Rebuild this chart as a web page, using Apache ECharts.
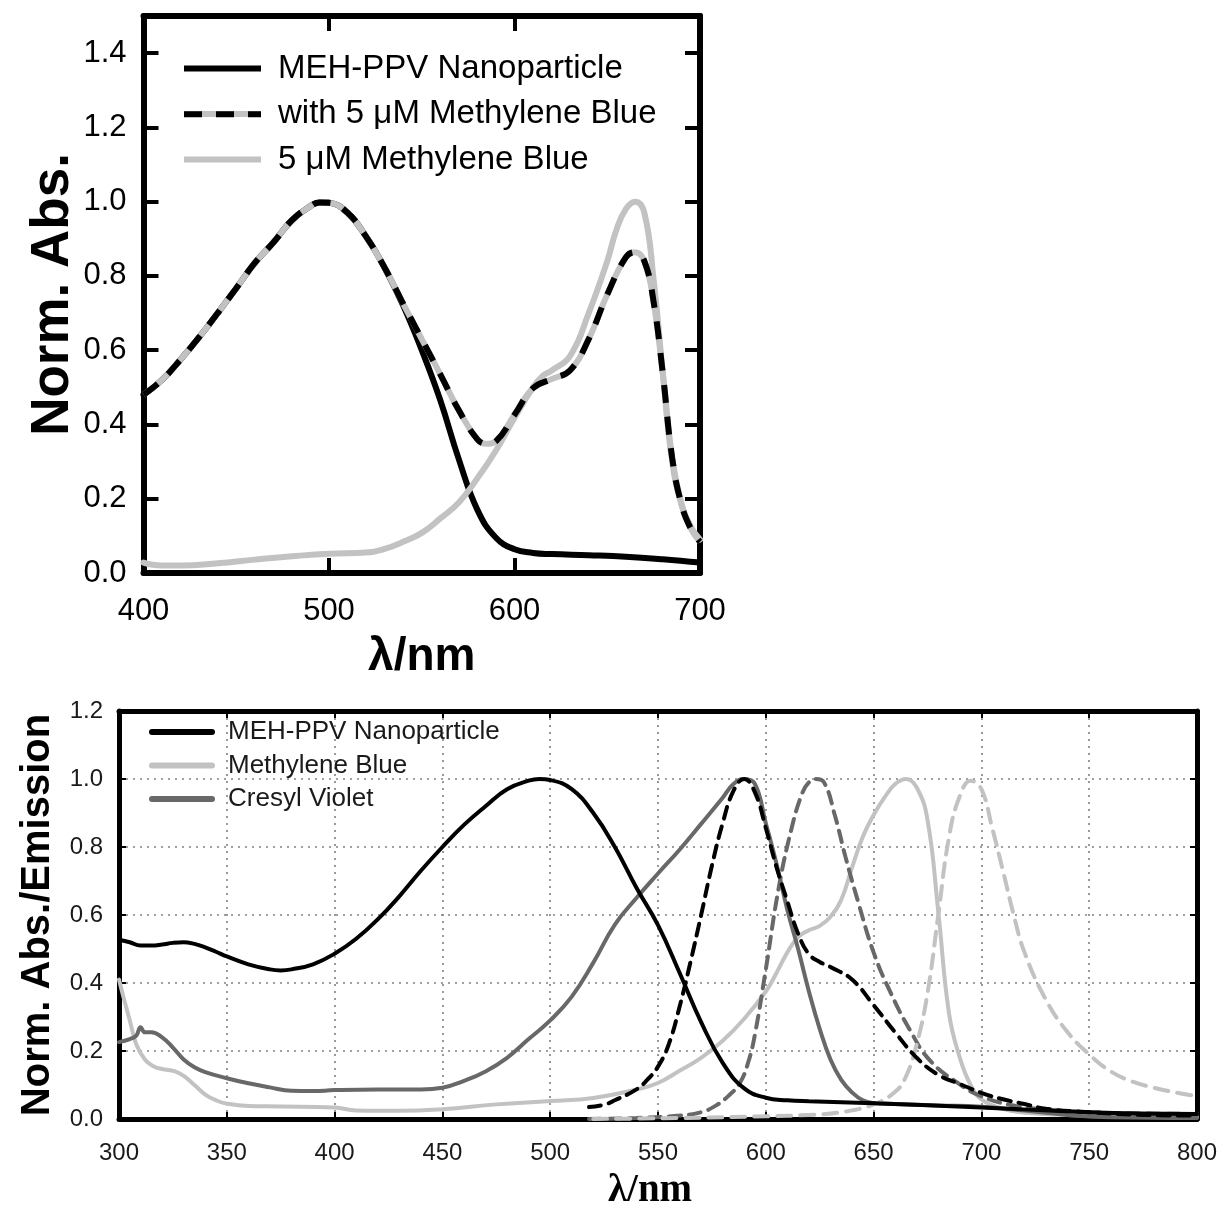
<!DOCTYPE html>
<html>
<head>
<meta charset="utf-8">
<script src="https://cdn.jsdelivr.net/npm/echarts@6/dist/echarts.min.js"></script>
<style>
html,body{margin:0;padding:0;background:#fff;}
#chart{width:1222px;height:1211px;}
</style>
</head>
<body>
<div id="chart"></div>
<script>
// ---------- Top panel data (normalized absorbance) ----------
const topWlMeh = [400, 410, 420, 430, 440, 450, 460, 470, 480, 490, 495, 500, 510, 520, 530, 540, 550, 560, 570, 580, 590, 600, 610, 620, 640, 660, 680, 700];
const topMeh   = [0.48, 0.52, 0.575, 0.635, 0.70, 0.767, 0.835, 0.89, 0.95, 0.988, 0.998, 0.997, 0.97, 0.906, 0.822, 0.72, 0.60, 0.465, 0.306, 0.17, 0.095, 0.064, 0.054, 0.051, 0.048, 0.044, 0.037, 0.028];

const topWlMix = [400, 410, 420, 430, 440, 450, 460, 470, 480, 490, 495, 500, 510, 520, 530, 540, 550, 560, 570, 580, 585, 590, 600, 610, 620, 630, 640, 650, 660, 665, 670, 675, 680, 685, 690, 695, 700];
const topMix   = [0.48, 0.52, 0.575, 0.635, 0.70, 0.767, 0.835, 0.89, 0.95, 0.988, 0.998, 0.997, 0.97, 0.906, 0.822, 0.725, 0.63, 0.535, 0.438, 0.36, 0.348, 0.355, 0.426, 0.498, 0.522, 0.546, 0.63, 0.75, 0.85, 0.864, 0.84, 0.73, 0.535, 0.31, 0.185, 0.12, 0.084];

const topWlMb = [400, 405, 410, 420, 440, 460, 480, 500, 520, 530, 540, 550, 560, 570, 580, 590, 600, 610, 615, 620, 630, 640, 650, 655, 660, 665, 670, 675, 680, 685, 690, 695, 700];
const topMb   = [0.028, 0.022, 0.02, 0.02, 0.026, 0.036, 0.045, 0.052, 0.055, 0.065, 0.084, 0.108, 0.147, 0.19, 0.255, 0.33, 0.418, 0.50, 0.53, 0.545, 0.585, 0.70, 0.84, 0.925, 0.98, 1.0, 0.97, 0.79, 0.535, 0.30, 0.185, 0.125, 0.09];

const topXTicks = [400, 500, 600, 700];
const topYTicks = [0.0, 0.2, 0.4, 0.6, 0.8, 1.0, 1.2, 1.4];

// ---------- Bottom panel data (normalized absorbance / emission) ----------
const botWlMehAbs = [300, 305, 310, 315, 320, 325, 330, 335, 340, 345, 350, 360, 370, 375, 380, 390, 400, 410, 420, 430, 440, 450, 460, 470, 480, 490, 495, 500, 510, 520, 530, 540, 550, 560, 570, 580, 590, 600, 610, 620, 650, 700, 750, 800];
const botMehAbs   = [0.527, 0.52, 0.51, 0.51, 0.513, 0.518, 0.52, 0.515, 0.505, 0.492, 0.478, 0.455, 0.44, 0.437, 0.44, 0.455, 0.486, 0.53, 0.587, 0.655, 0.73, 0.80, 0.865, 0.92, 0.97, 0.995, 1.0, 0.997, 0.97, 0.90, 0.80, 0.68, 0.57, 0.43, 0.285, 0.165, 0.09, 0.0625, 0.055, 0.052, 0.046, 0.034, 0.02, 0.015];

const botWlMbAbs = [300, 302, 305, 308, 312, 316, 320, 326, 330, 335, 340, 345, 350, 360, 375, 400, 410, 430, 450, 475, 500, 520, 540, 550, 560, 570, 580, 590, 600, 605, 610, 615, 620, 625, 630, 635, 640, 645, 650, 655, 660, 665, 670, 675, 680, 685, 690, 695, 700, 710, 720, 750, 800];
const botMbAbs   = [0.41, 0.36, 0.29, 0.22, 0.175, 0.155, 0.147, 0.14, 0.127, 0.10, 0.072, 0.055, 0.045, 0.038, 0.037, 0.034, 0.025, 0.024, 0.029, 0.043, 0.053, 0.062, 0.087, 0.106, 0.142, 0.18, 0.23, 0.295, 0.375, 0.43, 0.49, 0.535, 0.555, 0.568, 0.595, 0.645, 0.74, 0.83, 0.894, 0.945, 0.985, 1.0, 0.975, 0.88, 0.61, 0.31, 0.18, 0.10, 0.058, 0.03, 0.018, 0.01, 0.005];

const botWlCvAbs = [300, 305, 308, 310, 312, 315, 320, 325, 330, 335, 340, 350, 360, 370, 380, 390, 400, 420, 440, 450, 460, 470, 480, 490, 500, 510, 520, 530, 540, 550, 560, 570, 580, 585, 590, 595, 600, 605, 610, 615, 620, 625, 630, 635, 640, 645, 650, 660, 680, 700, 720, 740, 760, 800];
const botCvAbs   = [0.226, 0.235, 0.245, 0.27, 0.255, 0.255, 0.24, 0.21, 0.175, 0.152, 0.138, 0.12, 0.105, 0.093, 0.083, 0.082, 0.085, 0.087, 0.087, 0.092, 0.112, 0.14, 0.18, 0.235, 0.29, 0.36, 0.46, 0.572, 0.65, 0.722, 0.792, 0.868, 0.945, 0.985, 1.0, 0.985, 0.87, 0.75, 0.615, 0.50, 0.375, 0.265, 0.175, 0.115, 0.078, 0.055, 0.047, 0.044, 0.04, 0.036, 0.025, 0.012, 0.005, 0.003];

const botWlMehEm = [518, 525, 530, 540, 545, 550, 555, 560, 565, 570, 575, 580, 585, 590, 595, 600, 605, 610, 615, 620, 625, 630, 640, 650, 660, 670, 680, 690, 700, 710, 720, 730, 750, 775, 800];
const botMehEm   = [0.035, 0.042, 0.055, 0.087, 0.115, 0.154, 0.22, 0.33, 0.46, 0.60, 0.745, 0.87, 0.965, 1.0, 0.96, 0.856, 0.74, 0.64, 0.545, 0.485, 0.462, 0.447, 0.41, 0.335, 0.255, 0.18, 0.13, 0.103, 0.077, 0.058, 0.044, 0.03, 0.02, 0.012, 0.01];

const botWlCvEm = [518, 540, 560, 570, 577, 583, 588, 592, 595, 600, 606, 612, 617, 620, 623, 627, 632, 637, 643, 650, 658, 667, 676, 689, 700, 716, 730, 750, 775, 800];
const botCvEm   = [0.0, 0.003, 0.01, 0.02, 0.04, 0.07, 0.106, 0.17, 0.25, 0.44, 0.68, 0.856, 0.96, 0.99, 1.0, 0.99, 0.894, 0.77, 0.635, 0.49, 0.37, 0.26, 0.173, 0.106, 0.067, 0.038, 0.028, 0.02, 0.016, 0.015];

const botWlMbEm = [520, 560, 600, 620, 635, 650, 660, 665, 670, 675, 680, 685, 690, 695, 700, 705, 710, 715, 720, 730, 740, 750, 760, 770, 780, 790, 800];
const botMbEm   = [0.0, 0.003, 0.008, 0.012, 0.02, 0.043, 0.08, 0.125, 0.22, 0.37, 0.60, 0.83, 0.95, 0.995, 0.97, 0.856, 0.73, 0.60, 0.49, 0.35, 0.255, 0.19, 0.14, 0.11, 0.092, 0.078, 0.067];

const botXTicks = [300, 350, 400, 450, 500, 550, 600, 650, 700, 750, 800];
const botYTicks = [0.0, 0.2, 0.4, 0.6, 0.8, 1.0, 1.2];

// ---------- helpers ----------
const pts = (xs, ys) => xs.map((x, i) => [x, ys[i]]);
const SANS = '"Liberation Sans", Arial, sans-serif';
const BLACK = '#000000', LGRAY = '#c2c2c2', DGRAY = '#686868';
const SMOOTH = 0.45;

function frameAxis(gridIndex, pos, min, max, interval, tickLen, tickW, lineW) {
  return {
    type: 'value', gridIndex, position: pos, min, max, interval,
    axisLine: { show: true, onZero: false, lineStyle: { color: BLACK, width: lineW } },
    axisTick: { show: true, inside: true, length: tickLen, lineStyle: { color: BLACK, width: tickW } },
    axisLabel: { show: false }, splitLine: { show: false }
  };
}

function lineSeries(name, xi, yi, xs, ys, color, width, type, z, cap) {
  return {
    name, type: 'line', xAxisIndex: xi, yAxisIndex: yi, data: pts(xs, ys),
    symbol: 'none', smooth: SMOOTH,
    itemStyle: { color },
    lineStyle: { color, width, type: type || 'solid', cap: cap || 'round' },
    z
  };
}

const chart = echarts.init(document.getElementById('chart'), null, { renderer: 'canvas' });

const topXMin = topXTicks[0], topXMax = topXTicks[topXTicks.length - 1];
const botXMin = botXTicks[0], botXMax = botXTicks[botXTicks.length - 1];

const option = {
  animation: false,
  backgroundColor: '#ffffff',
  grid: [
    { left: 143.5, top: 16, width: 556.5, height: 557, show: false },
    { left: 119, top: 711, width: 1078, height: 415, show: false }
  ],
  xAxis: [
    {
      type: 'value', gridIndex: 0, position: 'bottom', min: topXMin, max: topXMax, interval: 100,
      axisLine: { show: true, onZero: false, lineStyle: { color: BLACK, width: 6 } },
      axisTick: { show: true, inside: true, length: 15, lineStyle: { color: BLACK, width: 4 } },
      axisLabel: { show: true, margin: 23, fontSize: 31, color: BLACK, fontFamily: SANS },
      splitLine: { show: false },
      name: 'λ/nm', nameLocation: 'middle', nameGap: 61,
      nameTextStyle: { fontSize: 46, fontWeight: 'bold', color: BLACK, fontFamily: SANS }
    },
    frameAxis(0, 'top', topXMin, topXMax, 100, 15, 4, 6),
    {
      type: 'value', gridIndex: 1, position: 'bottom', min: botXMin, max: botXMax, interval: 50,
      axisLine: { show: true, onZero: false, lineStyle: { color: BLACK, width: 5 } },
      axisTick: { show: true, inside: true, length: 7, lineStyle: { color: BLACK, width: 2 } },
      axisLabel: { show: true, margin: 22, fontSize: 24, color: '#1a1a1a', fontFamily: SANS },
      splitLine: { show: true, lineStyle: { color: '#808080', width: 1.6, type: [2, 5] } },
      name: 'λ/nm', nameLocation: 'middle', nameGap: 52,
      nameTextStyle: { fontSize: 39, fontWeight: 'bold', color: BLACK, padding: [0, 16, 0, 0],
        fontFamily: '"Liberation Serif", "Times New Roman", serif' }
    },
    frameAxis(1, 'top', botXMin, botXMax, 50, 7, 2, 5)
  ],
  yAxis: [
    {
      type: 'value', gridIndex: 0, position: 'left', min: 0, max: 1.5, interval: 0.2,
      axisLine: { show: true, onZero: false, lineStyle: { color: BLACK, width: 6 } },
      axisTick: { show: true, inside: true, length: 15, lineStyle: { color: BLACK, width: 4 } },
      axisLabel: {
        show: true, margin: 17, fontSize: 31, color: BLACK, fontFamily: SANS,
        formatter: v => (topYTicks.some(t => Math.abs(t - v) < 1e-6) ? v.toFixed(1) : '')
      },
      splitLine: { show: false },
      name: 'Norm. Abs.', nameLocation: 'middle', nameGap: 58,
      nameTextStyle: { fontSize: 53, fontWeight: 'bold', color: BLACK, fontFamily: SANS }
    },
    frameAxis(0, 'right', 0, 1.5, 0.2, 15, 4, 6),
    {
      type: 'value', gridIndex: 1, position: 'left', min: 0, max: 1.2, interval: 0.2,
      axisLine: { show: true, onZero: false, lineStyle: { color: BLACK, width: 5 } },
      axisTick: { show: true, inside: true, length: 7, lineStyle: { color: BLACK, width: 2 } },
      axisLabel: {
        show: true, margin: 16, fontSize: 24, color: '#1a1a1a', fontFamily: SANS,
        formatter: v => (botYTicks.some(t => Math.abs(t - v) < 1e-6) ? v.toFixed(1) : '')
      },
      splitLine: { show: true, lineStyle: { color: '#808080', width: 1.6, type: [2, 5] } },
      name: 'Norm. Abs./Emission', nameLocation: 'middle', nameGap: 61,
      nameTextStyle: { fontSize: 40, fontWeight: 'bold', color: BLACK, fontFamily: SANS }
    },
    frameAxis(1, 'right', 0, 1.2, 0.2, 7, 2, 5)
  ],
  legend: [
    {
      orient: 'vertical', left: 181, top: 52, padding: 0, itemGap: 12.5,
      itemWidth: 77, itemHeight: 32,
      data: ['MEH-PPV Nanoparticle', 'with 5 μM Methylene Blue', '5 μM Methylene Blue'],
      textStyle: { fontSize: 33, color: BLACK, fontFamily: SANS, padding: [0, 0, 0, 12], lineHeight: 32 },
      itemStyle: { opacity: 0 },
      lineStyle: { width: 6, cap: 'butt' },
      selectedMode: false, z: 4
    },
    {
      orient: 'vertical', left: 181, top: 101.5, padding: 0, itemGap: 12.5,
      itemWidth: 77, itemHeight: 32,
      data: ['with 5 μM Methylene Blue (dashes)'],
      formatter: () => '',
      textStyle: { fontSize: 32, lineHeight: 32 },
      itemStyle: { opacity: 0 },
      lineStyle: { width: 6, cap: 'butt' },
      selectedMode: false, z: 6
    },
    {
      orient: 'vertical', left: 149, top: 719, padding: 0, itemGap: 7.5,
      itemWidth: 60, itemHeight: 26,
      data: ['MEH-PPV Nanoparticle abs', 'Methylene Blue abs', 'Cresyl Violet abs'],
      formatter: n => n.replace(' abs', ''),
      textStyle: { fontSize: 26, color: '#1a1a1a', fontFamily: SANS, padding: [0, 0, 0, 11], lineHeight: 26 },
      itemStyle: { opacity: 0 },
      lineStyle: { width: 6, cap: 'round' },
      selectedMode: false, z: 4
    }
  ],
  series: [
    // top panel
    lineSeries('MEH-PPV Nanoparticle', 0, 0, topWlMeh, topMeh, BLACK, 6, null, 2),
    lineSeries('5 μM Methylene Blue', 0, 0, topWlMb, topMb, LGRAY, 6, null, 3),
    lineSeries('with 5 μM Methylene Blue', 0, 0, topWlMix, topMix, LGRAY, 6, null, 4, 'butt'),
    lineSeries('with 5 μM Methylene Blue (dashes)', 0, 0, topWlMix, topMix, BLACK, 6, [18, 14], 5, 'butt'),
    // bottom panel
    lineSeries('MEH-PPV Nanoparticle abs', 2, 2, botWlMehAbs, botMehAbs, BLACK, 4, null, 3),
    lineSeries('Methylene Blue abs', 2, 2, botWlMbAbs, botMbAbs, LGRAY, 4, null, 2),
    lineSeries('Cresyl Violet abs', 2, 2, botWlCvAbs, botCvAbs, DGRAY, 4, null, 2),
    lineSeries('MEH-PPV Nanoparticle em', 2, 2, botWlMehEm, botMehEm, BLACK, 4, [12, 8], 3),
    lineSeries('Cresyl Violet em', 2, 2, botWlCvEm, botCvEm, DGRAY, 4, [12, 8], 2),
    lineSeries('Methylene Blue em', 2, 2, botWlMbEm, botMbEm, LGRAY, 4, [14, 9], 2)
  ]
};
chart.setOption(option);
</script>
</body>
</html>
